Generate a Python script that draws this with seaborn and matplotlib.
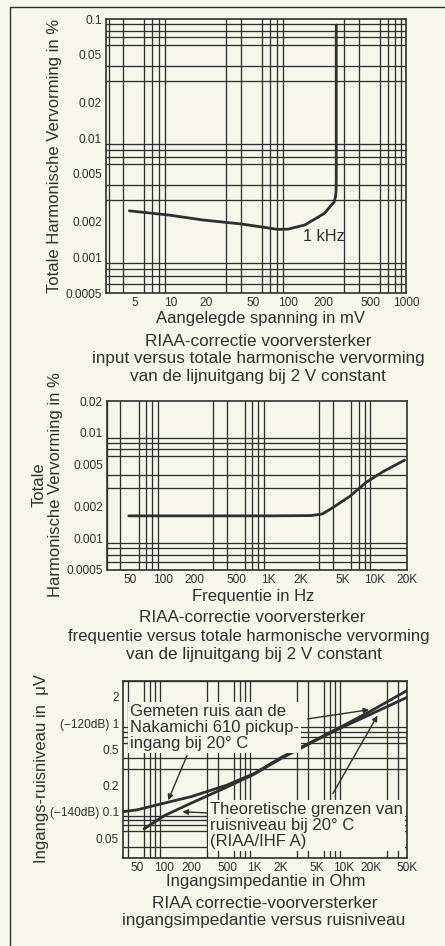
import numpy as np
import pandas as pd
import matplotlib
matplotlib.use("Agg")
import matplotlib.pyplot as plt
import seaborn as sns
from matplotlib.ticker import FixedLocator, FixedFormatter, LogLocator, NullFormatter
from matplotlib.lines import Line2D

# ---------------- data ----------------
# Chart 1: input voltage (mV) vs THD (%) at 1 kHz
c1_voltage = [4.5, 10, 19, 40, 82, 100, 120, 138, 170, 204, 230, 245, 252, 255, 256, 256]
c1_thd = [0.00245, 0.00225, 0.00205, 0.0019, 0.00171, 0.00172, 0.0018, 0.00186,
          0.0021, 0.00234, 0.0027, 0.0029, 0.0032, 0.0036, 0.0045, 0.089]
c1_xticks = [5, 10, 20, 50, 100, 200, 500, 1000]
c1_xlabels = ["5", "10", "20", "50", "100", "200", "500", "1000"]
c1_yticks = [0.0005, 0.001, 0.002, 0.005, 0.01, 0.02, 0.05, 0.1]
c1_ylabels = ["0.0005", "0.001", "0.002", "0.005", "0.01", "0.02", "0.05", "0.1"]

# Chart 2: frequency (Hz) vs THD (%)
c2_freq = [48, 1000, 2500, 3200, 4000, 5800, 8300, 12000, 19000]
c2_thd = [0.00163, 0.00163, 0.00164, 0.0017, 0.00195, 0.0025, 0.0034, 0.0043, 0.0055]
c2_xticks = [50, 100, 200, 500, 1000, 2000, 5000, 10000, 20000]
c2_xlabels = ["50", "100", "200", "500", "1K", "2K", "5K", "10K", "20K"]
c2_yticks = [0.0005, 0.001, 0.002, 0.005, 0.01, 0.02]
c2_ylabels = ["0.0005", "0.001", "0.002", "0.005", "0.01", "0.02"]

# Chart 3: input impedance (Ohm) vs input noise (uV)
c3_meas_x = [35, 50, 100, 200, 500, 1000, 2000, 5000, 10000, 20000, 50000]
c3_meas_y = [0.1, 0.105, 0.125, 0.148, 0.2, 0.27, 0.41, 0.66, 0.95, 1.38, 2.34]
c3_theo_x = [60, 100, 200, 500, 1000, 2000, 5000, 10000, 20000, 50000]
c3_theo_y = [0.064, 0.09, 0.125, 0.19, 0.265, 0.40, 0.65, 0.92, 1.27, 1.96]
c3_xticks = [50, 100, 200, 500, 1000, 2000, 5000, 10000, 20000, 50000]
c3_xlabels = ["50", "100", "200", "500", "1K", "2K", "5K", "10K", "20K", "50K"]
c3_yticks = [0.05, 0.1, 0.2, 0.5, 1, 2]
c3_ylabels = ["0.05", "(\u2212140dB) 0.1", "0.2", "0.5", "(\u2212120dB) 1", "2"]

# ---------------- style ----------------
sns.set_style("white")
plt.rcParams["font.family"] = ["Liberation Sans", "DejaVu Sans"]
BG = "#f8f6ec"
INK = "#2f2f2f"
W, H = 445, 946
CAP = 12.3
LAB = 12.0

fig = plt.figure(figsize=(W / 100, H / 100), dpi=100, facecolor=BG)


def px_axes(x0, y0, x1, y1):
    return fig.add_axes([x0 / W, 1 - y1 / H, (x1 - x0) / W, (y1 - y0) / H])


def style(ax, xlim, ylim, xt, xl, yt, yl):
    ax.set_xscale("log")
    ax.set_yscale("log")
    ax.set_xlim(*xlim)
    ax.set_ylim(*ylim)
    ax.set_facecolor(BG)
    ax.xaxis.set_major_locator(FixedLocator(xt))
    ax.xaxis.set_major_formatter(FixedFormatter(xl))
    ax.yaxis.set_major_locator(FixedLocator(yt))
    ax.yaxis.set_major_formatter(FixedFormatter(yl))
    for axis in (ax.xaxis, ax.yaxis):
        axis.set_minor_locator(LogLocator(base=10, subs=np.arange(1, 10), numticks=60))
        axis.set_minor_formatter(NullFormatter())
    ax.grid(False, which="major")
    ax.grid(True, which="minor", color=INK, lw=0.95)
    ax.tick_params(which="both", length=0, labelsize=8.6, colors=INK, pad=3)
    for s in ax.spines.values():
        s.set_color(INK)
        s.set_linewidth(1.2)
    ax.set_xlabel("")
    ax.set_ylabel("")


def ftext(x, y, s, **kw):
    kw.setdefault("ha", "center")
    kw.setdefault("va", "center")
    kw.setdefault("color", INK)
    kw.setdefault("fontsize", CAP)
    fig.text(x / W, 1 - y / H, s, **kw)


# ---------------- chart 1 ----------------
ax1 = px_axes(106, 19, 406, 293)
sns.lineplot(x=c1_voltage, y=c1_thd, ax=ax1, color=INK, lw=2.0, sort=False, estimator=None)
style(ax1, (2.85, 1000), (0.0005, 0.1), c1_xticks, c1_xlabels, c1_yticks, c1_ylabels)
ax1.text(133, 0.0015, "1 kHz", ha="left", va="center", fontsize=11.8, color=INK)

ftext(55, 156, "Totale Harmonische Vervorming in %", rotation=90, fontsize=LAB)
ftext(260, 318, "Aangelegde spanning in mV", fontsize=LAB)
ftext(258, 341, "RIAA-correctie voorversterker")
ftext(258, 359, "input versus totale harmonische vervorming")
ftext(258, 377, "van de lijnuitgang bij 2 V constant")

# ---------------- chart 2 ----------------
ax2 = px_axes(107, 401, 407, 570)
sns.lineplot(x=c2_freq, y=c2_thd, ax=ax2, color=INK, lw=2.0, sort=False, estimator=None)
style(ax2, (30, 20000), (0.0005, 0.02), c2_xticks, c2_xlabels, c2_yticks, c2_ylabels)

ftext(47, 485, "Totale\nHarmonische Vervorming in %", rotation=90, fontsize=LAB,
      linespacing=1.1)
ftext(253, 596, "Frequentie in Hz", fontsize=LAB)
ftext(252, 618, "RIAA-correctie voorversterker")
ftext(249, 636, "frequentie versus totale harmonische vervorming", fontsize=12.0)
ftext(254, 654, "van de lijnuitgang bij 2 V constant")

# ---------------- chart 3 ----------------
ax3 = px_axes(123, 681, 407, 858)
sns.lineplot(x=c3_meas_x, y=c3_meas_y, ax=ax3, color=INK, lw=2.0, sort=False, estimator=None)
sns.lineplot(x=c3_theo_x, y=c3_theo_y, ax=ax3, color=INK, lw=2.0, sort=False, estimator=None)
style(ax3, (35, 50000), (0.03, 3), c3_xticks, c3_xlabels, c3_yticks, c3_ylabels)

box = dict(facecolor=BG, edgecolor="none", pad=1.5)
ax3.text(42, 0.89, "Gemeten ruis aan de\nNakamichi 610 pickup-\ningang bij 20\u00b0 C",
         ha="left", va="center", fontsize=12, color=INK, bbox=box, linespacing=1.1, zorder=3)
ax3.text(324, 0.07, "Theoretische grenzen van\nruisniveau bij 20\u00b0 C\n(RIAA/IHF A)",
         ha="left", va="center", fontsize=12, color=INK, bbox=box, linespacing=1.05, zorder=3)

arrow = dict(arrowstyle="-|>", color=INK, lw=1.0, mutation_scale=8, shrinkA=0, shrinkB=0)
ax3.annotate("", xy=(111, 0.135), xytext=(180, 0.43), arrowprops=arrow, zorder=4)
ax3.annotate("", xy=(19000, 1.42), xytext=(3950, 1.12), arrowprops=arrow, zorder=4)
ax3.annotate("", xy=(23500, 1.22), xytext=(7500, 0.16), arrowprops=arrow, zorder=4)
ax3.annotate("", xy=(160, 0.1), xytext=(300, 0.097), arrowprops=arrow, zorder=4)

ftext(42, 768, "Ingangs-ruisniveau in  \u03bcV", rotation=90, fontsize=LAB)
ftext(266, 881, "Ingangsimpedantie in Ohm", fontsize=LAB)
ftext(265, 903, "RIAA correctie-voorversterker")
ftext(264, 920, "ingangsimpedantie versus ruisniveau")

# page frame (left and top rules)
fig.add_artist(Line2D([10 / W, 10 / W], [0, 1 - 7 / H], transform=fig.transFigure, color=INK, lw=1.0))
fig.add_artist(Line2D([10 / W, 1], [1 - 7 / H, 1 - 7 / H], transform=fig.transFigure, color=INK, lw=1.0))

fig.savefig("out.png", dpi=100, facecolor=BG)
